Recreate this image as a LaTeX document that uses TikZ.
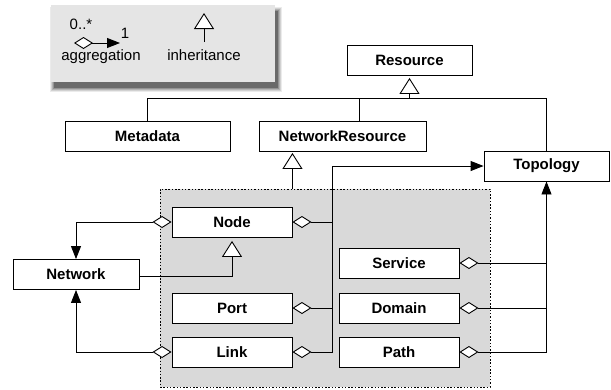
\documentclass[tikz,border=0pt]{standalone}
\usepackage{fontspec}
\setmainfont{Liberation Sans}
\usetikzlibrary{arrows.meta}

\tikzset{
  cls/.style={draw, fill=white, line width=0.9pt, minimum height=30pt,
    inner sep=0pt, font=\bfseries\fontsize{15}{18}\selectfont},
  lbl/.style={inner sep=0pt, font=\fontsize{15}{18}\selectfont},
  conn/.style={line width=0.9pt},
  dia/.tip={Diamond[fill=white, length=19pt, width=12pt]},
  arr/.tip={Triangle[length=13pt, width=10pt]},
  agg/.style={conn, {dia}-{arr}},
  aggtail/.style={conn, {dia}-},
  inh/.style={conn, -{Triangle[fill=white, length=16pt, width=20pt]}},
}

\begin{document}
\begin{tikzpicture}[x=1pt, y=-1pt]
\useasboundingbox (0,0) rectangle (611,389);

% legend panel with a soft shadow
\foreach \s/\o in {4/0.08,3/0.11,2/0.14,1/0.18,0/0.28}
  \fill[black, opacity=\o] (51+3-\s, 5+6-\s) rectangle (275+3+\s, 82+6+\s);
\node (legend) [fill=gray!20, minimum width=224pt, minimum height=77pt, inner sep=0pt] at (163,43.5) {};

\coordinate (aggA) at (74,43);
\coordinate (aggB) at (120,43);
\draw[agg] (aggA) -- (aggB);
\node (many) [lbl, anchor=center] at (81,24) {0..*};
\node (one) [lbl, anchor=center] at (125,33) {1};
\node (aggtext) [lbl] at (101,57) {aggregation};

\coordinate (inhA) at (204,42);
\coordinate (inhB) at (204,13);
\draw[inh] (inhA) -- (inhB);
\node (inhtext) [lbl] at (204,55) {inheritance};

% grouped network elements
\node (grp) [draw, line width=0.9pt, dash pattern=on 1.5pt off 1.8pt, fill=gray!30,
  minimum width=330pt, minimum height=198pt, inner sep=0pt] at (325,288) {};

% classes
\node (resource) [cls, minimum width=125pt] at (409.5,60) {Resource};
\node (metadata) [cls, minimum width=165pt] at (147.5,136.5) {Metadata};
\node (nr) [cls, minimum width=167pt] at (342.5,136.5) {NetworkResource};
\node (topology) [cls, minimum width=125pt] at (546.5,166) {Topology};
\node (network) [cls, minimum width=126pt] at (76,274.5) {Network};
\node (node) [cls, minimum width=120pt] at (232,222) {Node};
\node (port) [cls, minimum width=120pt] at (232,308) {Port};
\node (link) [cls, minimum width=120pt] at (232,352) {Link};
\node (service) [cls, minimum width=120pt] at (399,263) {Service};
\node (domain) [cls, minimum width=120pt] at (399,308) {Domain};
\node (path) [cls, minimum width=120pt] at (399,352) {Path};

% inheritance from Resource
\coordinate (rjoin) at (409.5,98);
\draw[conn] (metadata.north) |- (rjoin);
\draw[conn] ([xshift=16.5pt]nr.north) |- (rjoin);
\draw[conn] (topology.north) |- (rjoin);
\draw[inh, shorten >=2.5pt] (rjoin) -- (resource.south);

% inheritance of the group from NetworkResource
\draw[inh, shorten >=1pt] (grp.north -| node.east) -- (nr.south -| node.east);

% Network is a Node
\draw[inh, shorten >=3.5pt] ([yshift=-1.5pt]network.east) -| (node.south);

% Network aggregates Nodes and Links
\draw[agg] (node.west) -| (network.north);
\draw[agg] (link.west) -| (network.south);

% Topology aggregates Nodes, Ports and Links
\coordinate (bus) at (332.5,166);
\draw[agg] (link.east) -| (bus) -- (topology.west);
\draw[aggtail] (node.east) -- (node.east -| bus);
\draw[aggtail] (port.east) -- (port.east -| bus);

% Topology aggregates Services, Domains and Paths
\draw[agg] (path.east) -| (topology.south);
\draw[aggtail] (service.east) -- (service.east -| topology.south);
\draw[aggtail] (domain.east) -- (domain.east -| topology.south);
\end{tikzpicture}
\end{document}
